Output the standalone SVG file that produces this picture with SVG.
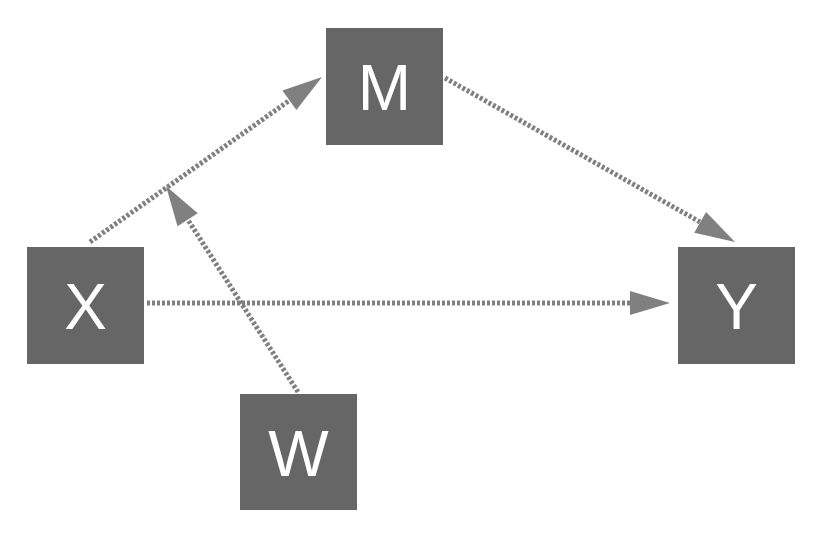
<svg xmlns="http://www.w3.org/2000/svg" width="814" height="537" viewBox="0 0 814 537">
<style>
.box{fill:#666666}
.lbl{font-family:"Liberation Sans",Arial,sans-serif;font-size:64px;fill:#ffffff;text-anchor:middle}
.ln{stroke:#808080;stroke-width:5;stroke-dasharray:3 2;fill:none}
.ah{fill:#808080}
</style>
<rect width="814" height="537" fill="#ffffff"/>
<g id="connectors">
<line class="ln" x1="90" y1="242" x2="290" y2="100"/>
<polygon class="ah" points="322,77 296.4,110 282.4,90.4"/>
<line class="ln" x1="445" y1="78" x2="700" y2="222"/>
<polygon class="ah" points="735,242 694.3,232.7 706.1,211.9"/>
<line class="ln" x1="147" y1="303" x2="630" y2="303"/>
<polygon class="ah" points="670,303 630,291 630,315"/>
<line class="ln" x1="298" y1="392" x2="188" y2="220"/>
<polygon class="ah" points="166,186 197.7,213.2 177.5,226.2"/>
</g>
<g id="M"><rect class="box" x="326" y="28" width="117" height="117"/><text class="lbl" x="384.5" y="110">M</text></g>
<g id="X"><rect class="box" x="27" y="247" width="117" height="117"/><text class="lbl" x="85.5" y="329">X</text></g>
<g id="Y"><rect class="box" x="678" y="247" width="117" height="117"/><text class="lbl" x="736.5" y="329">Y</text></g>
<g id="W"><rect class="box" x="240" y="394" width="117" height="116"/><text class="lbl" x="298.5" y="476">W</text></g>
</svg>
